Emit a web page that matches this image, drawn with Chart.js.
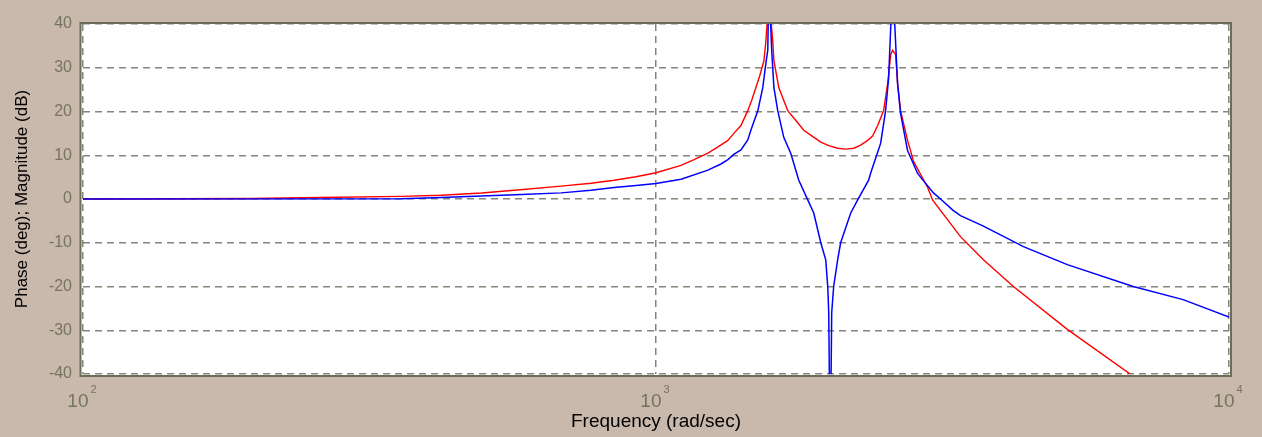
<!DOCTYPE html>
<html>
<head>
<meta charset="utf-8">
<script src="https://cdn.jsdelivr.net/npm/chart.js@4.4.1/dist/chart.umd.min.js"></script>
<style>
  html, body { margin: 0; padding: 0; background: #c9b8ac; }
  #wrap { width: 1262px; height: 437px; position: relative; }
</style>
</head>
<body>
<div id="wrap"><canvas id="c" width="1262" height="437"></canvas></div>
<script>
// ---- data ----
const xTickValues = [100, 1000, 10000];
const yTickMin = -40, yTickMax = 40, yTickStep = 10;
const xTitle = 'Frequency (rad/sec)';
const yTitle = 'Phase (deg); Magnitude (dB)';

const redFreq = [100, 197, 259, 359, 422, 496, 566, 683, 770, 845, 923, 1000, 1106, 1165, 1232, 1283, 1335, 1367, 1407, 1446, 1470, 1494, 1518, 1543, 1555, 1574, 1599, 1606, 1638, 1671, 1698, 1719, 1753, 1811, 1862, 1939, 2002, 2075, 2143, 2213, 2276, 2341, 2388, 2437, 2496, 2537, 2568, 2588, 2619, 2640, 2672, 2748, 2815, 2978, 3038, 3399, 3727, 4205, 5222, 6804];
const redDb   = [0, 0.1, 0.35, 0.6, 0.85, 1.36, 2.0, 2.95, 3.6, 4.3, 5.1, 6.0, 7.7, 9.0, 10.5, 11.9, 13.4, 15.0, 16.8, 20.2, 22.7, 25.5, 28.3, 31.6, 36, 46, 36, 31.6, 25.5, 22.5, 20.2, 19.3, 18.0, 15.7, 14.6, 13.0, 12.2, 11.6, 11.4, 11.6, 12.3, 13.4, 14.4, 16.8, 20.2, 26.4, 33.0, 34.0, 33.0, 26.4, 20.2, 13.4, 8.6, 2.7, -0.2, -8.6, -13.9, -20.0, -29.8, -40.5];

const blueFreq = [100, 359, 422, 496, 582, 683, 770, 845, 923, 1000, 1106, 1232, 1298, 1335, 1367, 1407, 1446, 1464, 1506, 1536, 1555, 1567, 1574, 1592, 1606, 1631, 1671, 1719, 1775, 1840, 1885, 1939, 1978, 1994, 2002, 2014, 2026, 2042, 2075, 2100, 2187, 2249, 2350, 2369, 2466, 2516, 2547, 2588, 2640, 2672, 2748, 2782, 2860, 2895, 3050, 3137, 3300, 3399, 3727, 4377, 5222, 6804, 8316, 10000];
const blueDb   = [0, 0.05, 0.35, 0.68, 1.05, 1.4, 2.0, 2.65, 3.1, 3.55, 4.5, 6.6, 8.0, 9.0, 10.2, 11.2, 13.5, 15.7, 20.2, 25.5, 31, 34, 50, 34, 25.5, 20.2, 14.1, 10.4, 4.3, -0.2, -3.2, -10, -13.9, -20, -26, -60, -26, -20, -13.9, -10, -3.2, -0.2, 4.3, 5.9, 12.7, 20.2, 27.7, 50, 26.4, 19.5, 11.1, 9.5, 5.9, 5.0, 1.4, 0, -2.6, -3.8, -6.2, -10.9, -15, -20, -23, -27];

// ---- styles ----
const TAN = '#c9b8ac';
const TICK_COLOR = '#75755d';
const GRID_COLOR = '#85857a';
const FRAME_COLOR = '#6c6c58';
const FONT = '"Liberation Sans", Arial, sans-serif';

const toPoints = (xs, ys) => xs.map((x, i) => ({ x: x, y: ys[i] }));

const framePlugin = {
  id: 'frame',
  beforeDraw(chart) {
    const { ctx, chartArea: a } = chart;
    ctx.save();
    ctx.fillStyle = TAN;
    ctx.fillRect(0, 0, chart.width, chart.height);
    ctx.fillStyle = '#ffffff';
    ctx.fillRect(a.left - 2, a.top - 1, a.right - a.left + 4, a.bottom - a.top + 3);
    ctx.restore();
  },
  afterDraw(chart) {
    const { ctx, chartArea: a } = chart;
    ctx.save();
    ctx.strokeStyle = FRAME_COLOR;
    ctx.lineWidth = 2;
    ctx.strokeRect(a.left - 2.5, a.top - 1, a.right - a.left + 4.5, a.bottom - a.top + 3);
    // x tick labels: 10 with superscript exponent
    const xs = chart.scales.x;
    ctx.fillStyle = TICK_COLOR;
    ctx.textBaseline = 'alphabetic';
    ctx.textAlign = 'left';
    xs.ticks.forEach(t => {
      const px = xs.getPixelForValue(t.value);
      const exp = String(Math.round(Math.log10(t.value)));
      ctx.font = '19px ' + FONT;
      const w1 = ctx.measureText('10').width;
      ctx.font = '11px ' + FONT;
      const w2 = ctx.measureText(exp).width;
      const start = px - (w1 + 2 + w2) / 2 - 1;
      ctx.font = '19px ' + FONT;
      ctx.fillText('10', start, 407);
      ctx.font = '11px ' + FONT;
      ctx.fillText(exp, start + w1 + 2, 393);
    });
    ctx.restore();
  }
};

new Chart(document.getElementById('c'), {
  type: 'line',
  data: {
    datasets: [
      {
        label: 'blue',
        data: toPoints(blueFreq, blueDb),
        borderColor: '#0000ff',
        borderWidth: 1.5,
        pointRadius: 0,
        tension: 0,
        fill: false,
        clip: 0
      },
      {
        label: 'red',
        data: toPoints(redFreq, redDb),
        borderColor: '#ff0000',
        borderWidth: 1.4,
        pointRadius: 0,
        tension: 0,
        fill: false,
        clip: 0
      }
    ]
  },
  options: {
    responsive: false,
    animation: false,
    devicePixelRatio: 1,
    layout: { padding: { top: 24, right: 33, left: 0, bottom: 0 } },
    plugins: {
      legend: { display: false },
      tooltip: { enabled: false },
      title: { display: false }
    },
    scales: {
      x: {
        type: 'logarithmic',
        min: 100,
        max: 10000,
        afterBuildTicks: (scale) => { scale.ticks = xTickValues.map(v => ({ value: v })); },
        afterFit: (scale) => { scale.height = 63; },
        ticks: { display: false },
        grid: { color: GRID_COLOR, lineWidth: 1.5, drawTicks: false },
        border: { display: false, dash: [7, 5] },
        title: {
          display: true,
          text: xTitle,
          color: '#000000',
          font: { family: FONT, size: 19 },
          padding: { top: 0, bottom: 4 }
        }
      },
      y: {
        type: 'linear',
        min: yTickMin,
        max: yTickMax,
        afterFit: (scale) => { scale.width = 83; },
        ticks: {
          stepSize: yTickStep,
          color: TICK_COLOR,
          font: { family: FONT, size: 16 },
          padding: 11
        },
        grid: { color: GRID_COLOR, lineWidth: 1.5, drawTicks: false },
        border: { display: false, dash: [7, 5] },
        title: {
          display: true,
          text: yTitle,
          color: '#000000',
          font: { family: FONT, size: 17 },
          padding: { top: 12, bottom: 0 }
        }
      }
    }
  },
  plugins: [framePlugin]
});
</script>
</body>
</html>
